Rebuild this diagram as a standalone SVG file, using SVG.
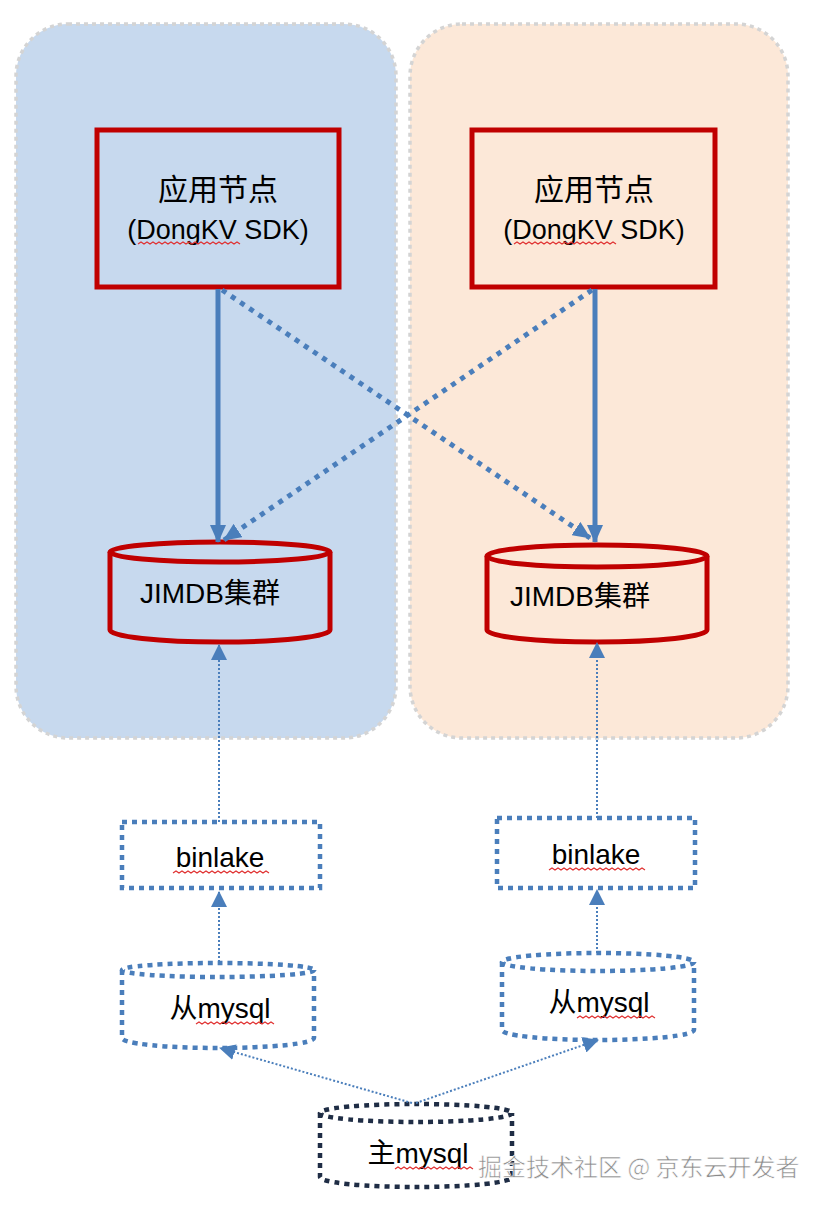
<svg xmlns="http://www.w3.org/2000/svg" width="824" height="1208" viewBox="0 0 824 1208">
<defs>
<style>
.zone{stroke:#d4d4d4;stroke-width:3.5;stroke-dasharray:4 4}
.app{fill:none;stroke:#c00000;stroke-width:5}
.db{fill:none;stroke:#c00000;stroke-width:5}
.t{font-family:"Liberation Sans","Noto Sans CJK SC",sans-serif;fill:#000}
.cn{font-size:30px}
.big{font-size:27px}
.jm{font-size:28px}
.mid{font-size:28px}
.bl{fill:none;stroke:#4a7ebb;stroke-width:4.5;stroke-dasharray:5 5}
.nv{fill:none;stroke:#1f2d45;stroke-width:4.5;stroke-dasharray:5 5}
.solid{stroke:#4a7ebb;stroke-width:5;fill:none}
.dash{stroke:#4a7ebb;stroke-width:5;fill:none;stroke-dasharray:5 6}
.thin{stroke:#4a7ebb;stroke-width:2;fill:none;stroke-dasharray:2 2}
.wave{fill:none;stroke:#e03030;stroke-width:1.2}
.wm{font-family:"Noto Sans CJK SC","Liberation Sans",sans-serif;font-size:24px;fill:#8a8a8a;stroke:#ffffff;stroke-width:0.6}
</style>
<marker id="ah" markerUnits="userSpaceOnUse" markerWidth="18" markerHeight="16" refX="17" refY="8" orient="auto">
<path d="M0,0 L18,8 L0,16 z" fill="#4a7ebb"/>
</marker>
<marker id="ahs" markerUnits="userSpaceOnUse" markerWidth="16" markerHeight="16" refX="15" refY="8" orient="auto">
<path d="M0,0 L16,8 L0,16 z" fill="#4a7ebb"/>
</marker>
</defs>
<rect width="824" height="1208" fill="#ffffff"/>

<g id="zone-left"><rect class="zone" x="16" y="24" width="380" height="714" rx="52" fill="#c7d9ee"/></g>
<g id="zone-right"><rect class="zone" x="410" y="24" width="378" height="714" rx="52" fill="#fce8d8"/></g>

<g id="app-left">
<rect class="app" x="97" y="130" width="242" height="157"/>
<text class="t cn" x="218" y="200" text-anchor="middle">应用节点</text>
<text class="t big" x="218" y="239" text-anchor="middle">(DongKV SDK)</text>
<path class="wave" d="M138,244 l3,-2 l3,2 l3,-2 l3,2 l3,-2 l3,2 l3,-2 l3,2 l3,-2 l3,2 l3,-2 l3,2 l3,-2 l3,2 l3,-2 l3,2 l3,-2 l3,2 l3,-2 l3,2 l3,-2 l3,2 l3,-2 l3,2 l3,-2 l3,2 l3,-2 l3,2 l3,-2 l3,2 l3,-2 l3,2 l3,-2 l3,2"/>
</g>
<g id="app-right">
<rect class="app" x="472" y="130" width="243" height="157"/>
<text class="t cn" x="594" y="200" text-anchor="middle">应用节点</text>
<text class="t big" x="594" y="239" text-anchor="middle">(DongKV SDK)</text>
<path class="wave" d="M514,244 l3,-2 l3,2 l3,-2 l3,2 l3,-2 l3,2 l3,-2 l3,2 l3,-2 l3,2 l3,-2 l3,2 l3,-2 l3,2 l3,-2 l3,2 l3,-2 l3,2 l3,-2 l3,2 l3,-2 l3,2 l3,-2 l3,2 l3,-2 l3,2 l3,-2 l3,2 l3,-2 l3,2 l3,-2 l3,2 l3,-2 l3,2"/>
</g>

<g id="jimdb-left">
<path class="db" d="M110,552 L110,630 A110,12 0 0 0 330,630 L330,552"/>
<ellipse class="db" cx="220" cy="552" rx="110" ry="10" fill="none"/>
<text class="t jm" x="140" y="603">JIMDB集群</text>
</g>
<g id="jimdb-right">
<path class="db" d="M487,556 L487,630 A110,12 0 0 0 707,630 L707,556"/>
<ellipse class="db" cx="597" cy="556" rx="110" ry="11" fill="none"/>
<text class="t jm" x="510" y="606">JIMDB集群</text>
</g>

<g id="binlake-left">
<rect class="bl" x="122" y="822" width="198" height="66"/>
<text class="t mid" x="220" y="867" text-anchor="middle">binlake</text>
<path class="wave" d="M173,873 l3,-2 l3,2 l3,-2 l3,2 l3,-2 l3,2 l3,-2 l3,2 l3,-2 l3,2 l3,-2 l3,2 l3,-2 l3,2 l3,-2 l3,2 l3,-2 l3,2 l3,-2 l3,2 l3,-2 l3,2 l3,-2 l3,2 l3,-2 l3,2 l3,-2 l3,2 l3,-2 l3,2 l3,-2 l3,2"/>
</g>
<g id="binlake-right">
<rect class="bl" x="497" y="818" width="198" height="70"/>
<text class="t mid" x="596" y="864" text-anchor="middle">binlake</text>
<path class="wave" d="M549,870 l3,-2 l3,2 l3,-2 l3,2 l3,-2 l3,2 l3,-2 l3,2 l3,-2 l3,2 l3,-2 l3,2 l3,-2 l3,2 l3,-2 l3,2 l3,-2 l3,2 l3,-2 l3,2 l3,-2 l3,2 l3,-2 l3,2 l3,-2 l3,2 l3,-2 l3,2 l3,-2 l3,2 l3,-2 l3,2"/>
</g>

<g id="slave-left">
<path class="bl" d="M122,970 L122,1038 A96,10 0 0 0 314,1038 L314,970"/>
<ellipse class="bl" cx="218" cy="970" rx="96" ry="7"/>
<text class="t mid" x="220" y="1018" text-anchor="middle">从mysql</text>
<path class="wave" d="M196,1024 l3,-2 l3,2 l3,-2 l3,2 l3,-2 l3,2 l3,-2 l3,2 l3,-2 l3,2 l3,-2 l3,2 l3,-2 l3,2 l3,-2 l3,2 l3,-2 l3,2 l3,-2 l3,2 l3,-2 l3,2 l3,-2 l3,2 l3,-2 l3,2"/>
</g>
<g id="slave-right">
<path class="bl" d="M502,962 L502,1030 A96,10 0 0 0 694,1030 L694,962"/>
<ellipse class="bl" cx="598" cy="962" rx="96" ry="9"/>
<text class="t mid" x="599" y="1012" text-anchor="middle">从mysql</text>
<path class="wave" d="M577,1018 l3,-2 l3,2 l3,-2 l3,2 l3,-2 l3,2 l3,-2 l3,2 l3,-2 l3,2 l3,-2 l3,2 l3,-2 l3,2 l3,-2 l3,2 l3,-2 l3,2 l3,-2 l3,2 l3,-2 l3,2 l3,-2 l3,2 l3,-2 l3,2"/>
</g>

<g id="master">
<path class="nv" d="M320,1113 L320,1177 A96,10 0 0 0 512,1177 L512,1113"/>
<ellipse class="nv" cx="416" cy="1113" rx="96" ry="9"/>
<text class="t mid" x="418" y="1163" text-anchor="middle">主mysql</text>
<path class="wave" d="M395,1169 l3,-2 l3,2 l3,-2 l3,2 l3,-2 l3,2 l3,-2 l3,2 l3,-2 l3,2 l3,-2 l3,2 l3,-2 l3,2 l3,-2 l3,2 l3,-2 l3,2 l3,-2 l3,2 l3,-2 l3,2 l3,-2 l3,2 l3,-2 l3,2"/>
</g>

<g id="connectors">
<line class="solid" x1="218" y1="289" x2="218" y2="542" marker-end="url(#ah)"/>
<line class="solid" x1="595" y1="289" x2="595" y2="542" marker-end="url(#ah)"/>
<line class="dash" x1="222" y1="290" x2="590" y2="538" marker-end="url(#ah)"/>
<line class="dash" x1="592" y1="290" x2="224" y2="540" marker-end="url(#ah)"/>
<line class="thin" x1="219" y1="822" x2="219" y2="645" marker-end="url(#ahs)"/>
<line class="thin" x1="597" y1="818" x2="597" y2="643" marker-end="url(#ahs)"/>
<line class="thin" x1="219" y1="962" x2="219" y2="892" marker-end="url(#ahs)"/>
<line class="thin" x1="597" y1="953" x2="597" y2="890" marker-end="url(#ahs)"/>
<line class="thin" x1="412" y1="1103" x2="220" y2="1048" marker-end="url(#ahs)"/>
<line class="thin" x1="416" y1="1103" x2="598" y2="1040" marker-end="url(#ahs)"/>
</g>

<text class="wm" x="478" y="1176">掘金技术社区 @ 京东云开发者</text>
</svg>
